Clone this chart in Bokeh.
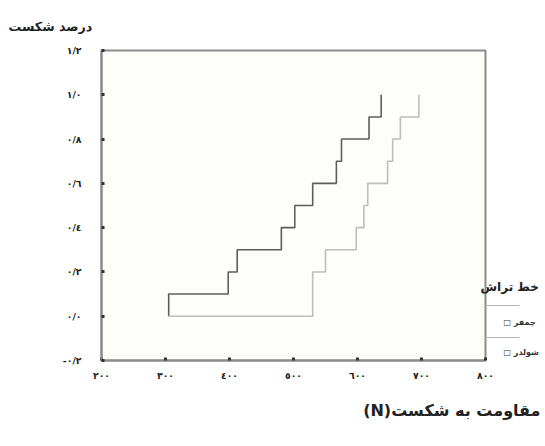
from bokeh.plotting import figure
from bokeh.models import FixedTicker, Range1d, Title, LinearAxis
from bokeh.embed import file_html
from bokeh.resources import INLINE

# ---- data ----
dark_x = [305, 305, 398, 412, 481, 502, 530, 567, 575, 618, 637]
dark_y = [0.0, 0.1, 0.2, 0.3, 0.4, 0.5, 0.6, 0.7, 0.8, 0.9, 1.0]
light_x = [305, 530, 550, 598, 610, 616, 647, 655, 667, 696]
light_y = [0.0, 0.2, 0.3, 0.4, 0.5, 0.6, 0.7, 0.8, 0.9, 1.0]

x_ticks = [200, 300, 400, 500, 600, 700, 800]
x_tick_labels = ["٢٠٠", "٣٠٠", "٤٠٠", "٥٠٠", "٦٠٠", "٧٠٠", "٨٠٠"]
y_ticks = [-0.2, 0.0, 0.2, 0.4, 0.6, 0.8, 1.0, 1.2]
y_tick_labels = ["-٠/٢", "٠/٠", "٠/٢", "٠/٤", "٠/٦", "٠/٨", "١/٠", "١/٢"]

y_title = "درصد شکست"
x_title = "مقاومت به شکست"
legend_title = "خط تراش"
legend_labels = ["چمفر", "شولدر"]

# legend layout (vertical places, in y-axis units)
legend_title_pos = 0.130
legend_label_pos = [-0.028, -0.164]
legend_line_pos = [0.048, -0.096]

FONT = "DejaVu Sans"
RLE, PDF = "\u202b", "\u202c"   # right-to-left embedding for Persian runs

p = figure(width=545, height=446, output_backend="svg", toolbar_location=None,
           x_range=Range1d(200, 800), y_range=Range1d(-0.2, 1.2),
           min_border_left=101, min_border_right=60, min_border_top=50,
           min_border_bottom=86)
p.background_fill_color = "#fdfdf9"
p.border_fill_color = "#ffffff"
p.outline_line_color = "#8a8a8a"
p.outline_line_width = 2
p.grid.visible = False

p.step(dark_x, dark_y, mode="after", line_color="#5e5e5e", line_width=1.6)
p.step(light_x, light_y, mode="after", line_color="#bdbdbd", line_width=1.6)

for ax, ticks, labels in ((p.xaxis[0], x_ticks, x_tick_labels), (p.yaxis[0], y_ticks, y_tick_labels)):
    ax.ticker = FixedTicker(ticks=ticks)
    ax.major_label_overrides = {t: l for t, l in zip(ticks, labels)}
    ax.axis_line_color = "#8a8a8a"
    ax.axis_line_width = 2
    ax.major_tick_in = 3
    ax.major_tick_out = 0
    ax.major_tick_line_color = "#333333"
    ax.major_tick_line_width = 3
    ax.minor_tick_line_color = None
    ax.major_label_text_font = FONT
    ax.major_label_text_font_size = "7pt"
    ax.major_label_text_font_style = "bold"
    ax.major_label_text_color = "#222222"
p.xaxis.major_label_standoff = 9
p.yaxis.major_label_standoff = 20

# axis titles as Title objects in the side panels
p.add_layout(Title(text=y_title, align="left", offset=-93, vertical_align="top",
                   text_font=FONT, text_font_size="9.5pt", text_font_style="bold",
                   text_color="#222222", standoff=30), "above")
p.add_layout(Title(text=RLE + x_title + "(N)" + PDF, align="right", offset=-55,
                   text_font=FONT, text_font_size="12pt", text_font_style="bold",
                   text_color="#222222", standoff=30), "below")

# legend built from right-hand axes: labels = entries, minor ticks = separator lines
item_axis = LinearAxis(
    ticker=FixedTicker(ticks=legend_label_pos, minor_ticks=legend_line_pos),
    major_label_overrides={v: RLE + t + "\u00a0□" + PDF
                           for v, t in zip(legend_label_pos, legend_labels)},
    axis_line_color=None, major_tick_line_color=None,
    major_tick_in=0, major_tick_out=0,
    minor_tick_in=0, minor_tick_out=34, minor_tick_line_color="#b4b4b4",
    minor_tick_line_width=1,
    major_label_standoff=-16, major_label_text_font=FONT,
    major_label_text_font_size="6pt", major_label_text_font_style="bold",
    major_label_text_color="#333333")
p.add_layout(item_axis, "right")

title_axis = LinearAxis(
    ticker=FixedTicker(ticks=[legend_title_pos]),
    major_label_overrides={legend_title_pos: legend_title},
    axis_line_color=None, major_tick_line_color=None, minor_tick_line_color=None,
    major_tick_in=0, major_tick_out=0, minor_tick_in=0, minor_tick_out=0,
    major_label_standoff=-61, major_label_text_font=FONT,
    major_label_text_font_size="9pt", major_label_text_font_style="bold",
    major_label_text_color="#222222")
p.add_layout(title_axis, "right")

open("out.html", "w").write(file_html(p, INLINE))
